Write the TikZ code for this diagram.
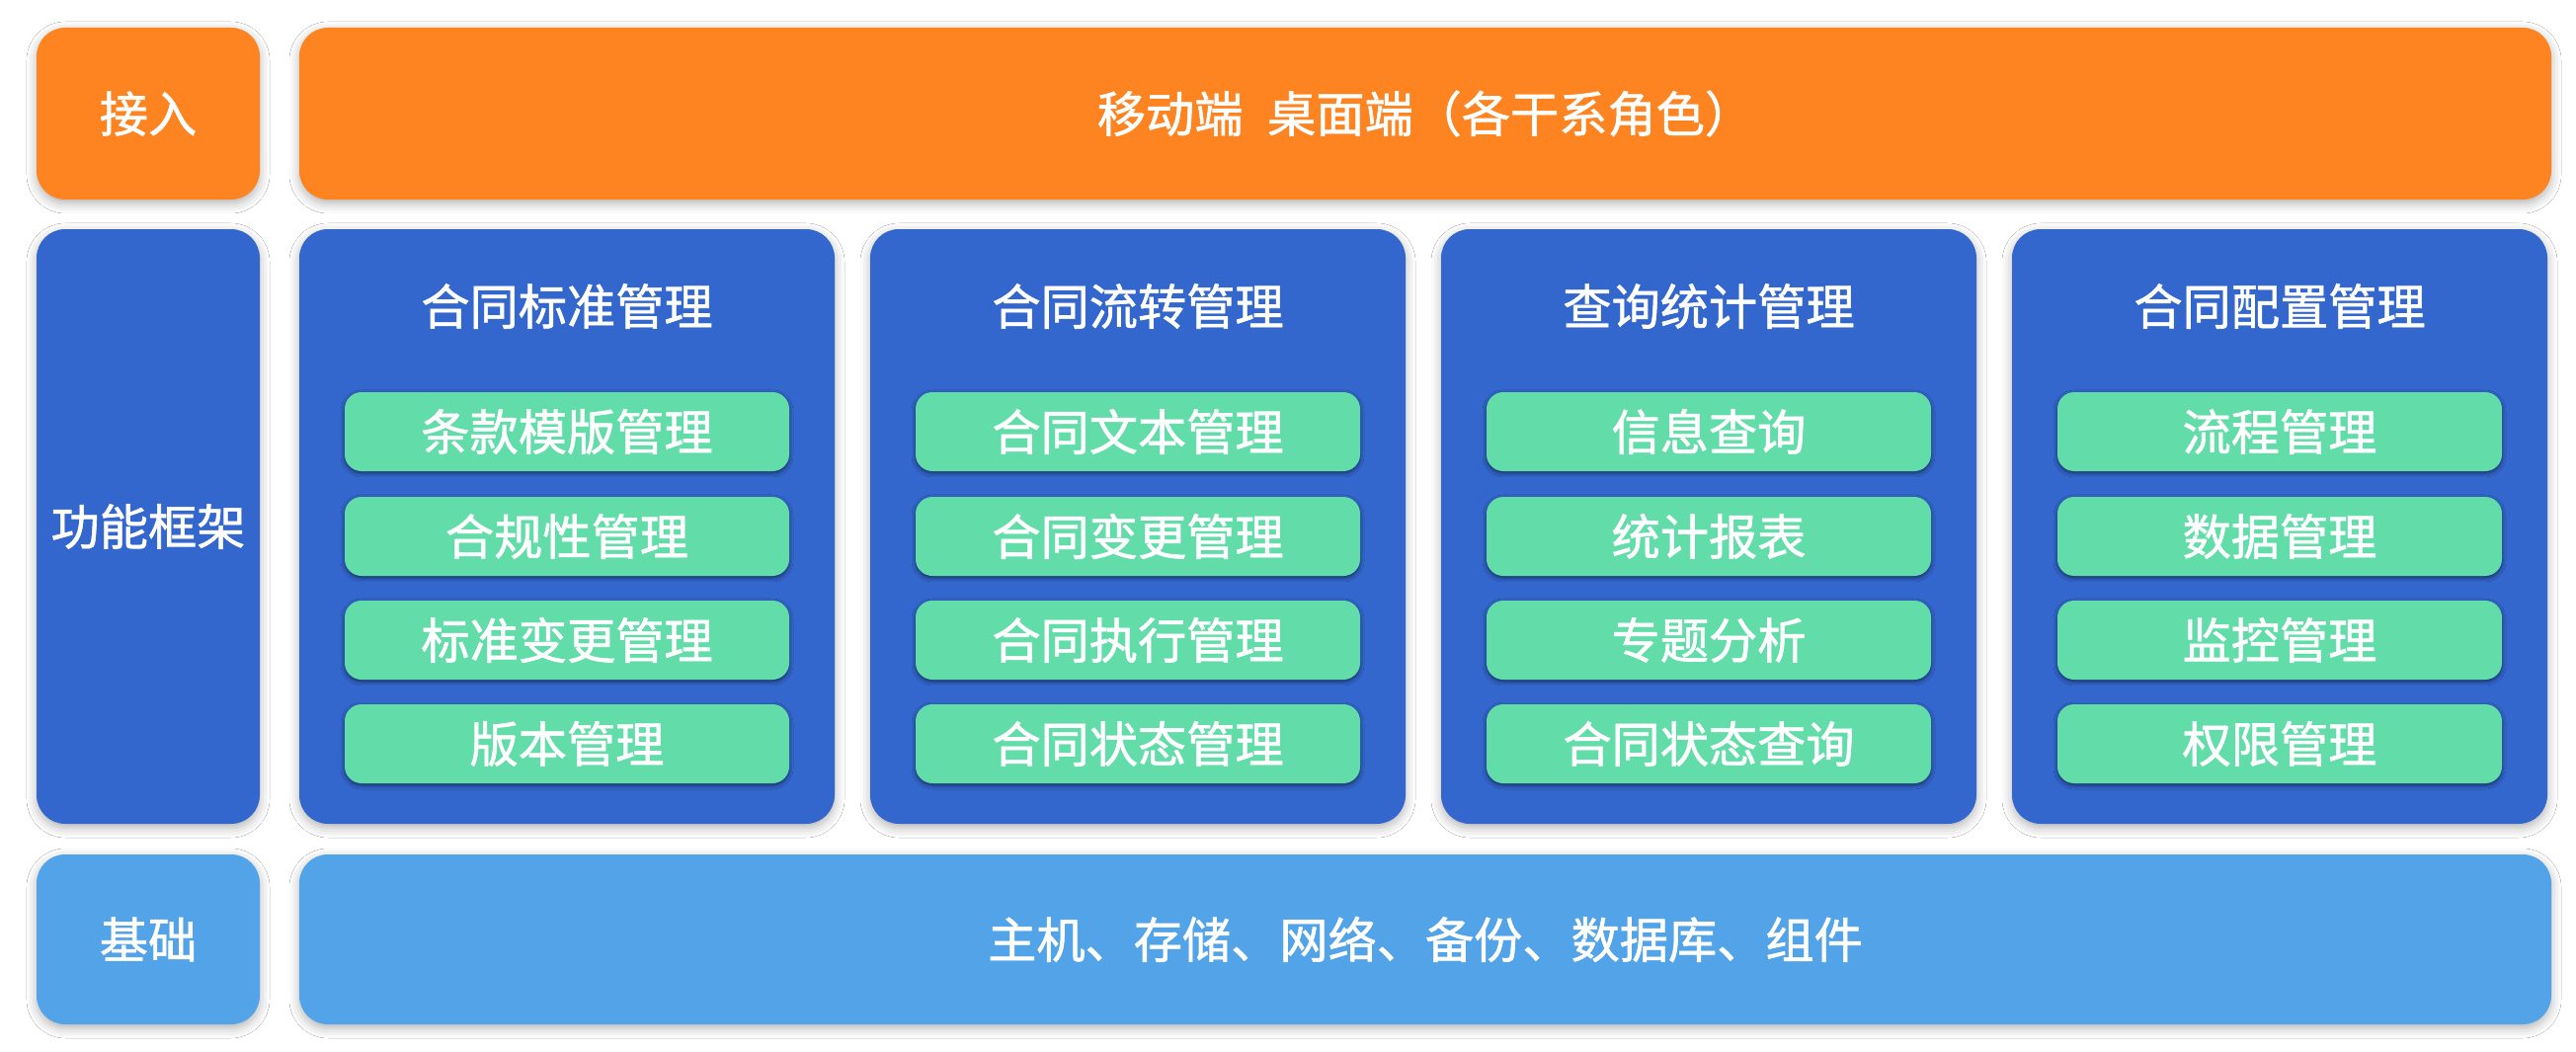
\documentclass[tikz,border=0pt]{standalone}
\usepackage{fontspec}
\setmainfont{Noto Sans CJK SC}[FakeBold=1.2]
\usetikzlibrary{shadows.blur}
\definecolor{accorange}{HTML}{FD8421}
\definecolor{funcblue}{HTML}{3367CD}
\definecolor{itemgreen}{HTML}{62DDAA}
\definecolor{baseblue}{HTML}{52A3E8}
\tikzset{
  box/.style={rounded corners=0.29cm, inner sep=0pt, text=white,
    font=\fontsize{14}{16}\selectfont,
    blur shadow={shadow xshift=0pt, shadow yshift=-0.04cm, shadow blur radius=0.1cm, shadow opacity=30}},
  side/.style={box, minimum width=2.26cm},
  bar/.style={box, minimum width=22.80cm},
  panel/.style={box, fill=funcblue, minimum width=5.42cm, minimum height=6.02cm},
  paneltitle/.style={text=white, inner sep=0pt, font=\fontsize{14}{16}\selectfont},
  item/.style={box, rounded corners=0.17cm, fill=itemgreen, minimum width=4.50cm, minimum height=0.80cm,
    blur shadow={shadow xshift=0pt, shadow yshift=-0.02cm, shadow blur radius=0.04cm, shadow opacity=30}}
}
\begin{document}
\begin{tikzpicture}
\fill[white] (0,0) rectangle (26.08,10.64);
\useasboundingbox (0,0) rectangle (26.08,10.64);
\node[side, fill=accorange, minimum height=1.74cm] (access) at (1.50,9.49) {接入};
\node[bar, fill=accorange, minimum height=1.74cm] (accessbar) at (14.43,9.49) {移动端\hspace{0.5em}桌面端（各干系角色）};
\node[side, fill=funcblue, minimum height=6.02cm] (func) at (1.50,5.31) {功能框架};
\foreach \i/\t/\a/\b/\c/\d in {0/合同标准管理/条款模版管理/合规性管理/标准变更管理/版本管理,
    1/合同流转管理/合同文本管理/合同变更管理/合同执行管理/合同状态管理,
    2/查询统计管理/信息查询/统计报表/专题分析/合同状态查询,
    3/合同配置管理/流程管理/数据管理/监控管理/权限管理} {
  \node[panel] (p\i) at ({5.74+5.78*\i},5.31) {};
  \node[paneltitle] (p\i-t) at ({5.74+5.78*\i},7.54) {\t};
  \node[item] (p\i-a) at ({5.74+5.78*\i},6.27) {\a};
  \node[item] (p\i-b) at ({5.74+5.78*\i},5.21) {\b};
  \node[item] (p\i-c) at ({5.74+5.78*\i},4.16) {\c};
  \node[item] (p\i-d) at ({5.74+5.78*\i},3.11) {\d};
}
\node[side, fill=baseblue, minimum height=1.72cm] (base) at (1.50,1.13) {基础};
\node[bar, fill=baseblue, minimum height=1.72cm] (basebar) at (14.43,1.13) {主机、存储、网络、备份、数据库、组件};
\end{tikzpicture}
\end{document}
